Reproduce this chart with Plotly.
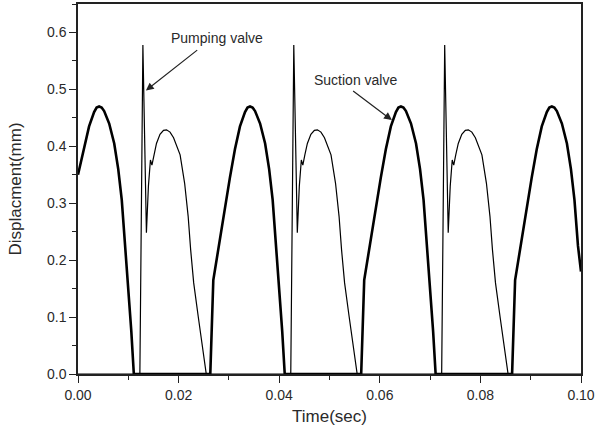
import plotly.graph_objects as go

# Suction valve displacement (thick curve), time in s, displacement in mm
suction_t = [0.0000, 0.0012, 0.0022, 0.0032, 0.0037, 0.0042, 0.0047, 0.0052, 0.0062, 0.0072, 0.0080, 0.0087, 0.0094, 0.0100, 0.0106, 0.0111,
             0.0263, 0.0269, 0.0278, 0.0287, 0.0295, 0.0302, 0.0312, 0.0322, 0.0332, 0.0337, 0.0342, 0.0347, 0.0352, 0.0362, 0.0372, 0.0380, 0.0387, 0.0394, 0.0400, 0.0406, 0.0411,
             0.0563, 0.0569, 0.0578, 0.0587, 0.0595, 0.0602, 0.0612, 0.0622, 0.0632, 0.0637, 0.0642, 0.0647, 0.0652, 0.0662, 0.0672, 0.0680, 0.0687, 0.0694, 0.0700, 0.0706, 0.0711,
             0.0863, 0.0869, 0.0878, 0.0887, 0.0895, 0.0902, 0.0912, 0.0922, 0.0932, 0.0937, 0.0942, 0.0947, 0.0952, 0.0962, 0.0972, 0.0980, 0.0987, 0.0994, 0.1000]
suction_y = [0.350, 0.395, 0.435, 0.460, 0.468, 0.470, 0.468, 0.462, 0.440, 0.405, 0.360, 0.306, 0.225, 0.155, 0.075, 0.000,
             0.000, 0.165, 0.215, 0.265, 0.310, 0.345, 0.395, 0.435, 0.460, 0.468, 0.470, 0.468, 0.462, 0.440, 0.405, 0.360, 0.306, 0.225, 0.155, 0.075, 0.000,
             0.000, 0.165, 0.215, 0.265, 0.310, 0.345, 0.395, 0.435, 0.460, 0.468, 0.470, 0.468, 0.462, 0.440, 0.405, 0.360, 0.306, 0.225, 0.155, 0.075, 0.000,
             0.000, 0.165, 0.215, 0.265, 0.310, 0.345, 0.395, 0.435, 0.460, 0.468, 0.470, 0.468, 0.462, 0.440, 0.405, 0.360, 0.306, 0.225, 0.180]

# Pumping valve displacement (thin curve)
pumping_t = [0.0000, 0.0123, 0.0129, 0.0136, 0.0140, 0.0144, 0.0147, 0.0151, 0.0156, 0.0163, 0.0170, 0.0176, 0.0183, 0.0190, 0.0197, 0.0203, 0.0212, 0.0219, 0.0224, 0.0230, 0.0239, 0.0249, 0.0255,
             0.0423, 0.0429, 0.0436, 0.0440, 0.0444, 0.0447, 0.0451, 0.0456, 0.0463, 0.0470, 0.0476, 0.0483, 0.0490, 0.0497, 0.0503, 0.0512, 0.0519, 0.0524, 0.0530, 0.0539, 0.0549, 0.0555,
             0.0723, 0.0729, 0.0736, 0.0740, 0.0744, 0.0747, 0.0751, 0.0756, 0.0763, 0.0770, 0.0776, 0.0783, 0.0790, 0.0797, 0.0803, 0.0812, 0.0819, 0.0824, 0.0830, 0.0839, 0.0849, 0.0855,
             0.1000]
pumping_y = [0.000, 0.000, 0.578, 0.248, 0.330, 0.376, 0.367, 0.385, 0.405, 0.421, 0.428, 0.429, 0.425, 0.415, 0.400, 0.385, 0.335, 0.277, 0.218, 0.160, 0.101, 0.043, 0.000,
             0.000, 0.578, 0.248, 0.330, 0.376, 0.367, 0.385, 0.405, 0.421, 0.428, 0.429, 0.425, 0.415, 0.400, 0.385, 0.335, 0.277, 0.218, 0.160, 0.101, 0.043, 0.000,
             0.000, 0.578, 0.248, 0.330, 0.376, 0.367, 0.385, 0.405, 0.421, 0.428, 0.429, 0.425, 0.415, 0.400, 0.385, 0.335, 0.277, 0.218, 0.160, 0.101, 0.043, 0.000,
             0.000]

x_ticks = [0.00, 0.02, 0.04, 0.06, 0.08, 0.10]
x_ticklabels = ["0.00", "0.02", "0.04", "0.06", "0.08", "0.10"]
y_ticks = [0.0, 0.1, 0.2, 0.3, 0.4, 0.5, 0.6]
y_ticklabels = ["0.0", "0.1", "0.2", "0.3", "0.4", "0.5", "0.6"]

FONT = "Liberation Sans, Arial, sans-serif"
TXT = "#2a2a2a"

fig = go.Figure()
fig.add_trace(go.Scatter(x=pumping_t, y=pumping_y, mode="lines", name="Pumping valve",
                         line=dict(color="black", width=1.2), showlegend=False))
fig.add_trace(go.Scatter(x=suction_t, y=suction_y, mode="lines", name="Suction valve",
                         line=dict(color="black", width=2.6), showlegend=False))

# labels with arrows
fig.add_annotation(x=0.0277, y=0.590, text="Pumping valve", showarrow=False,
                   font=dict(family=FONT, size=14, color=TXT))
fig.add_annotation(x=0.0135, y=0.498, ax=0.0240, ay=0.571, axref="x", ayref="y",
                   text="", showarrow=True, arrowhead=2, arrowsize=1.3, arrowwidth=1.2,
                   arrowcolor="#222222", standoff=0, startstandoff=0)
fig.add_annotation(x=0.0552, y=0.516, text="Suction valve", showarrow=False,
                   font=dict(family=FONT, size=14, color=TXT))
fig.add_annotation(x=0.0624, y=0.446, ax=0.0544, ay=0.499, axref="x", ayref="y",
                   text="", showarrow=True, arrowhead=2, arrowsize=1.3, arrowwidth=1.2,
                   arrowcolor="#222222", standoff=0, startstandoff=0)

fig.update_layout(
    width=601, height=426,
    margin=dict(l=78, r=20, t=4, b=52, autoexpand=False),
    plot_bgcolor="white", paper_bgcolor="white",
    font=dict(family=FONT, color=TXT),
)
fig.update_xaxes(
    range=[0, 0.1], tickvals=x_ticks, ticktext=x_ticklabels,
    showgrid=False, zeroline=False, automargin=False,
    showline=True, linecolor="#222222", linewidth=1.5, mirror=True,
    ticks="outside", ticklen=7, tickwidth=1.2, tickcolor="#222222",
    minor=dict(dtick=0.01, tick0=0, ticks="outside", ticklen=4, tickwidth=1.2, tickcolor="#222222", showgrid=False),
    tickfont=dict(family=FONT, size=14, color=TXT),
    title=dict(text="Time(sec)", font=dict(family=FONT, size=17, color=TXT), standoff=25),
)
fig.update_yaxes(
    range=[0, 0.65], tickvals=y_ticks, ticktext=y_ticklabels,
    showgrid=False, zeroline=False, automargin=False,
    showline=True, linecolor="#222222", linewidth=1.5, mirror=True,
    ticks="outside", ticklen=7, tickwidth=1.2, tickcolor="#222222",
    minor=dict(dtick=0.05, tick0=0, ticks="outside", ticklen=4, tickwidth=1.2, tickcolor="#222222", showgrid=False),
    tickfont=dict(family=FONT, size=14, color=TXT),
    title=dict(text="Displacment(mm)", font=dict(family=FONT, size=17, color=TXT), standoff=21),
)

fig.write_html("out.html")
